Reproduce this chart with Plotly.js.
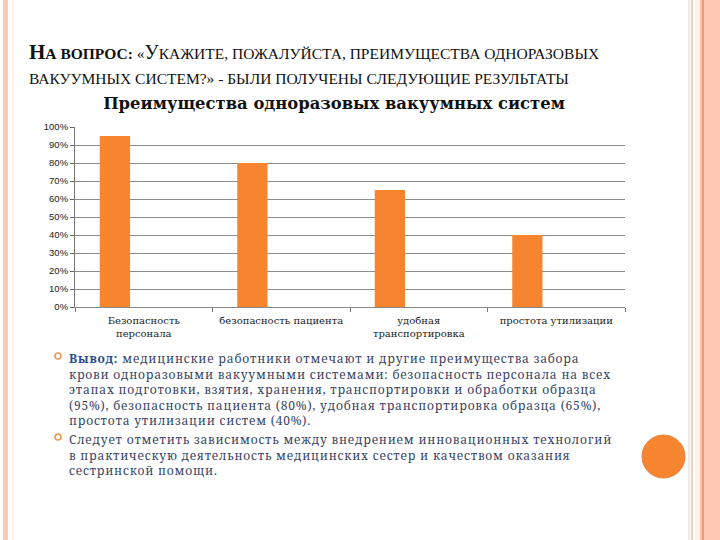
<!DOCTYPE html>
<html>
<head>
<meta charset="utf-8">
<script src="https://cdn.plot.ly/plotly-3.0.1.min.js"></script>
<style>html,body{margin:0;padding:0;background:#fff;}#chart{width:720px;height:540px;}</style>
</head>
<body>
<div id="chart"></div>
<script>
// ---- data ----
const categories = ["Безопасность<br>персонала", "безопасность пациента", "удобная<br>транспортировка", "простота утилизации"];
const values = [0.95, 0.80, 0.65, 0.40];
const chartTitle = "Преимущества одноразовых вакуумных систем";
const headingLine1 = "<b><span style='font-size:21px'>Н</span>А ВОПРОС:</b> «<span style='font-size:20px'>У</span>КАЖИТЕ, ПОЖАЛУЙСТА, ПРЕИМУЩЕСТВА ОДНОРАЗОВЫХ";
const headingLine2 = "ВАКУУМНЫХ СИСТЕМ?» - БЫЛИ ПОЛУЧЕНЫ СЛЕДУЮЩИЕ РЕЗУЛЬТАТЫ";
const paragraph1 = [
  "<b><span style='color:#2c4a8a'>Вывод:</span></b> медицинские работники отмечают и другие преимущества забора",
  "крови одноразовыми вакуумными системами: безопасность персонала на всех",
  "этапах подготовки, взятия, хранения, транспортировки и обработки образца",
  "(95%), безопасность пациента (80%), удобная транспортировка образца (65%),",
  "простота утилизации систем (40%)."
];
const paragraph2 = [
  "Следует отметить зависимость между внедрением инновационных технологий",
  "в практическую деятельность медицинских сестер и качеством оказания",
  "сестринской помощи."
];
const paragraphTopY = [348, 429];
const bulletY = [356, 437];

// ---- layout geometry (pixels) ----
const L = 75, R = 625, T = 127, B = 307, W = 720, H = 540;
const px = x => (x - L) / (R - L);
const py = y => (B - y) / (B - T);

const annotations = [];
annotations.push({text: headingLine1, x: px(27), y: py(52), xref: 'paper', yref: 'paper', xanchor: 'left', yanchor: 'middle', showarrow: false,
  font: {family: 'Liberation Serif', size: 15.5, color: '#111'}});
annotations.push({text: headingLine2, x: px(27), y: py(78), xref: 'paper', yref: 'paper', xanchor: 'left', yanchor: 'middle', showarrow: false,
  font: {family: 'Liberation Serif', size: 15.5, color: '#111'}});
[paragraph1, paragraph2].forEach((p, i) => {
  annotations.push({text: p.map(s => "<span style='letter-spacing:0.8px'>" + s + "</span>").join('<br>'),
    x: px(67), y: py(paragraphTopY[i]), xref: 'paper', yref: 'paper', xanchor: 'left', yanchor: 'top', align: 'left', showarrow: false,
    font: {family: 'Noto Serif', size: 12, color: '#3a4565'}});
});

const shapes = [];
// left border
shapes.push({type: 'rect', xref: 'paper', yref: 'paper', x0: px(3), x1: px(8), y0: py(0), y1: py(H), line: {width: 0}, fillcolor: '#fbcab6', layer: 'below'});
shapes.push({type: 'line', xref: 'paper', yref: 'paper', x0: px(13), x1: px(13), y0: py(0), y1: py(H), line: {width: 1, color: '#fbe3d6'}, layer: 'below'});
// right border
shapes.push({type: 'line', xref: 'paper', yref: 'paper', x0: px(689), x1: px(689), y0: py(0), y1: py(H), line: {width: 1, color: '#e9d2c2'}, layer: 'below'});
shapes.push({type: 'line', xref: 'paper', yref: 'paper', x0: px(692), x1: px(692), y0: py(0), y1: py(H), line: {width: 1.5, color: '#e6c6b2'}, layer: 'below'});
shapes.push({type: 'rect', xref: 'paper', yref: 'paper', x0: px(695), x1: px(700), y0: py(0), y1: py(H), line: {width: 0}, fillcolor: '#fff3e8', layer: 'below'});
shapes.push({type: 'rect', xref: 'paper', yref: 'paper', x0: px(700), x1: px(W), y0: py(0), y1: py(H), line: {width: 0}, fillcolor: '#fdc7b4', layer: 'below'});
shapes.push({type: 'line', xref: 'paper', yref: 'paper', x0: px(703), x1: px(703), y0: py(0), y1: py(H), line: {width: 1.5, color: '#f08a68'}, layer: 'below'});
// bullets
bulletY.forEach(y => {
  shapes.push({type: 'circle', xref: 'paper', yref: 'paper', x0: px(55), x1: px(61), y0: py(y - 3), y1: py(y + 3), line: {width: 1.6, color: '#e89a55'}, fillcolor: 'rgba(0,0,0,0)'});
});
// orange circle
shapes.push({type: 'circle', xref: 'paper', yref: 'paper', x0: px(642), x1: px(685), y0: py(435), y1: py(478), line: {width: 1, color: '#e8823a'}, fillcolor: '#f7842f'});

const data = [{
  type: 'bar', x: categories, y: values,
  marker: {color: '#f7852f', line: {width: 0}},
  width: 0.22, offset: -0.32, hoverinfo: 'skip'
}];

const layout = {
  width: W, height: H,
  margin: {l: L, r: W - R, t: T, b: H - B, pad: 0},
  paper_bgcolor: '#ffffff', plot_bgcolor: '#ffffff',
  showlegend: false,
  title: {text: '<b>' + chartTitle + '</b>', x: px(334), xref: 'paper', xanchor: 'center', y: 1 - 103 / H, yanchor: 'middle',
    font: {family: 'DejaVu Serif', size: 16.4, color: '#111'}},
  xaxis: {type: 'category', tickson: 'boundaries', ticks: 'outside', ticklen: 4, tickcolor: '#777',
    showline: true, linecolor: '#888', linewidth: 1, showgrid: false, ticklabelstandoff: 4,
    tickfont: {family: 'DejaVu Serif', size: 10, color: '#222'}, automargin: false},
  yaxis: {range: [0, 1], dtick: 0.1, tickformat: '.0%', ticks: 'outside', ticklen: 4, tickcolor: '#666',
    showline: true, linecolor: '#777', linewidth: 1, showgrid: true, gridcolor: '#8c8c8c', gridwidth: 1,
    tickfont: {family: 'Liberation Sans', size: 9.5, color: '#222'}, zeroline: false, automargin: false},
  annotations: annotations, shapes: shapes
};
Plotly.newPlot('chart', data, layout, {displayModeBar: false, staticPlot: true});
</script>
</body>
</html>
